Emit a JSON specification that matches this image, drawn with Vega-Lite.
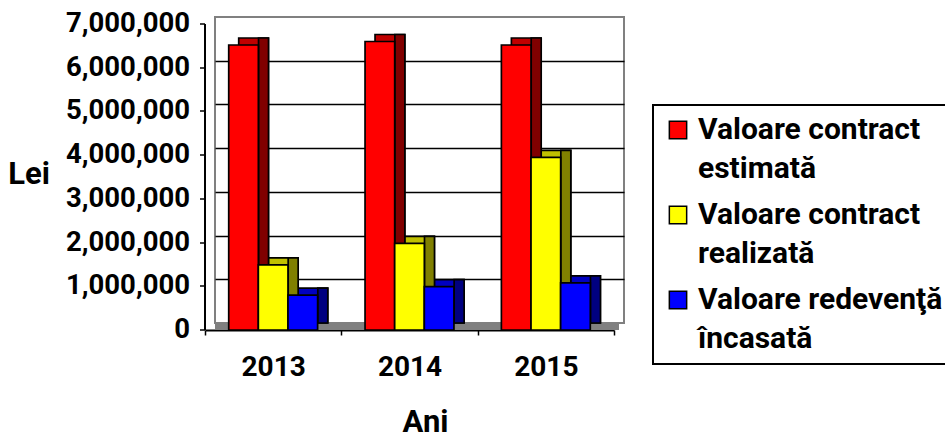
{
  "$schema": "https://vega.github.io/schema/vega-lite/v6.json",
  "width": 409,
  "height": 306,
  "autosize": "none",
  "padding": {"left": 215, "top": 17, "right": 321, "bottom": 117},
  "background": "white",
  "config": {
    "view": {"stroke": "#808080", "strokeWidth": 2},
    "font": "Roboto"
  },
  "data": {
    "values": [
      {"An": "2013", "Serie": "Valoare contract estimată", "Valoare": 6520000},
      {"An": "2013", "Serie": "Valoare contract realizată", "Valoare": 1490000},
      {"An": "2013", "Serie": "Valoare redevenţă încasată", "Valoare": 800000},
      {"An": "2014", "Serie": "Valoare contract estimată", "Valoare": 6600000},
      {"An": "2014", "Serie": "Valoare contract realizată", "Valoare": 1980000},
      {"An": "2014", "Serie": "Valoare redevenţă încasată", "Valoare": 990000},
      {"An": "2015", "Serie": "Valoare contract estimată", "Valoare": 6520000},
      {"An": "2015", "Serie": "Valoare contract realizată", "Valoare": 3950000},
      {"An": "2015", "Serie": "Valoare redevenţă încasată", "Valoare": 1080000}
    ]
  },
  "layer": [
    {
      "data": {"values": [{}]},
      "mark": {"type": "rule", "color": "#808080", "strokeWidth": 7, "yOffset": 3.5, "xOffset": -5, "x2Offset": -5},
      "encoding": {
        "y": {
          "datum": 0,
          "type": "quantitative",
          "scale": {"domain": [0, 7000000], "nice": false, "zero": true},
          "axis": {
            "orient": "left",
            "grid": true,
            "labels": false,
            "ticks": false,
            "domain": false,
            "title": null,
            "values": [0, 1000000, 2000000, 3000000, 4000000, 5000000, 6000000, 7000000],
            "gridWidth": 1.5,
            "gridColor": {"condition": {"test": "datum.value === 0 || datum.value === 7000000", "value": "transparent"}, "value": "black"}
          }
        }
      }
    },
    {
      "mark": {"type": "bar", "stroke": "black", "strokeWidth": 1.7},
      "encoding": {
        "x": {"field": "An", "type": "nominal", "scale": {"paddingInner": 0, "paddingOuter": 0, "range": [0, 409]}, "axis": null},
        "xOffset": {"field": "Serie", "type": "nominal", "sort": null, "scale": {"paddingInner": 0, "paddingOuter": 0.8}},
        "y": {"field": "Valoare", "type": "quantitative", "scale": {"domain": [0, 7000000], "nice": false}, "axis": null},
        "color": {
          "field": "Serie", "type": "nominal", "sort": null,
          "scale": {"domain": ["Valoare contract estimată", "Valoare contract realizată", "Valoare redevenţă încasată"], "range": ["#C00000", "#C0C000", "#0000C0"]},
          "legend": null
        }
      }
    },
    {
      "mark": {"type": "bar", "stroke": "black", "strokeWidth": 1.7, "width": 10},
      "encoding": {
        "x": {"field": "An", "type": "nominal", "scale": {"paddingInner": 0, "paddingOuter": 0, "range": [10, 419]}, "axis": null},
        "xOffset": {"field": "Serie", "type": "nominal", "sort": null, "scale": {"paddingInner": 0, "paddingOuter": 0.8}},
        "y": {"field": "Valoare", "type": "quantitative", "axis": null},
        "color": {
          "field": "Serie", "type": "nominal", "sort": null,
          "scale": {"domain": ["Valoare contract estimată", "Valoare contract realizată", "Valoare redevenţă încasată"], "range": ["#800000", "#808000", "#000080"]},
          "legend": null
        }
      }
    },
    {
      "mark": {"type": "bar", "stroke": "black", "strokeWidth": 1.7, "yOffset": 7, "y2Offset": 7},
      "encoding": {
        "x": {
          "field": "An", "type": "nominal",
          "scale": {"paddingInner": 0, "paddingOuter": 0, "range": [-10, 399]},
          "axis": {
            "orient": "bottom",
            "offset": 7,
            "labelAngle": 0,
            "tickBand": "extent",
            "domainColor": "black",
            "domainWidth": 2,
            "tickColor": "black",
            "tickSize": 5,
            "tickWidth": 1.5,
            "labelFont": "Roboto",
            "labelFontSize": 28,
            "labelFontWeight": "bold",
            "labelColor": "black",
            "labelPadding": 18,
            "title": "Ani",
            "titleFont": "Roboto",
            "titleFontSize": 31,
            "titleFontWeight": "bold",
            "titleColor": "black",
            "titleX": 210,
            "titleY": 101,
            "titleAlign": "center",
            "titleBaseline": "alphabetic"
          }
        },
        "xOffset": {"field": "Serie", "type": "nominal", "sort": null, "scale": {"paddingInner": 0, "paddingOuter": 0.8}},
        "y": {
          "field": "Valoare", "type": "quantitative",
          "axis": {
            "orient": "left",
            "offset": 17,
            "translate": 7,
            "grid": false,
            "values": [0, 1000000, 2000000, 3000000, 4000000, 5000000, 6000000, 7000000],
            "format": ",d",
            "domainColor": "black",
            "domainWidth": 2,
            "tickColor": "black",
            "tickSize": 5,
            "tickWidth": 1.5,
            "labelFont": "Roboto",
            "labelFontSize": 27.5,
            "labelFontWeight": "bold",
            "labelColor": "black",
            "labelPadding": 10,
            "labelFlush": false,
            "labelOverlap": false,
            "title": "Lei",
            "titleFont": "Roboto",
            "titleFontSize": 31,
            "titleFontWeight": "bold",
            "titleColor": "black",
            "titleAngle": 0,
            "titleX": -155,
            "titleY": 151,
            "titleAlign": "right",
            "titleBaseline": "middle"
          }
        },
        "color": {
          "field": "Serie", "type": "nominal", "sort": null,
          "scale": {"domain": ["Valoare contract estimată", "Valoare contract realizată", "Valoare redevenţă încasată"], "range": ["#FF0000", "#FFFF00", "#0000FF"]},
          "legend": {
            "orient": "none",
            "legendX": 438,
            "legendY": 88,
            "title": null,
            "strokeColor": "black",
            "fillColor": "white",
            "padding": 10,
            "symbolType": "square",
            "symbolSize": 300,
            "symbolStrokeColor": "black",
            "symbolStrokeWidth": 1.5,
            "labelFont": "Roboto",
            "labelFontSize": 30,
            "labelFontWeight": "bold",
            "labelColor": "black",
            "labelLimit": 500,
            "labelOffset": 5,
            "rowPadding": 16,
            "labelExpr": "[slice(datum.label, 0, lastindexof(datum.label, ' ')), slice(datum.label, lastindexof(datum.label, ' ') + 1)]",
            "encode": {
              "labels": {"update": {"lineHeight": {"value": 39}}},
              "legend": {"update": {"strokeWidth": {"value": 2}}}
            }
          }
        }
      }
    }
  ],
  "resolve": {
    "scale": {"color": "independent", "x": "independent", "xOffset": "independent"},
    "axis": {"y": "independent", "x": "independent"}
  }
}
